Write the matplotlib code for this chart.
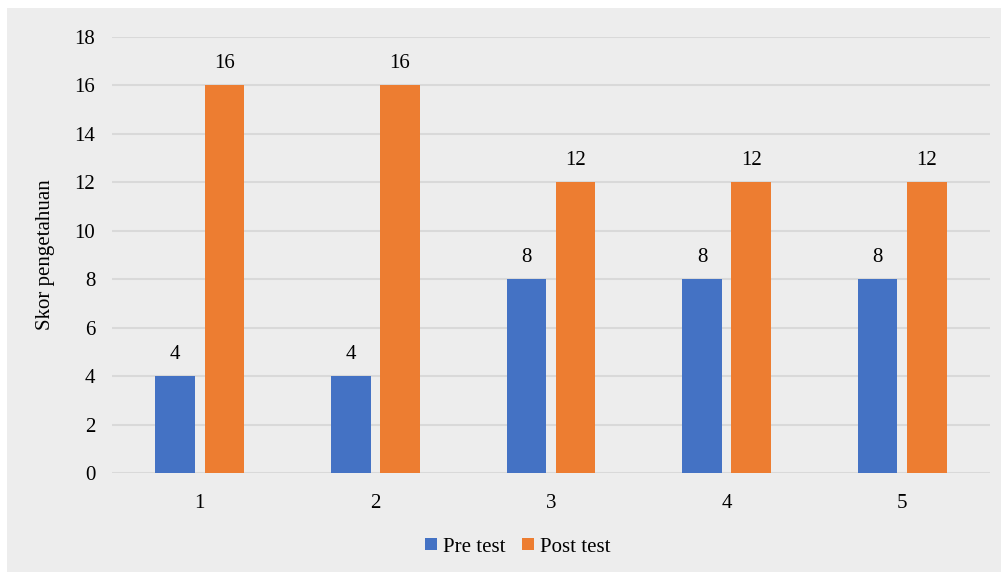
import matplotlib.pyplot as plt
from matplotlib.patches import Rectangle
import numpy as np

categories = ['1', '2', '3', '4', '5']
pre_test = [4, 4, 8, 8, 8]
post_test = [16, 16, 12, 12, 12]

blue = '#4472c4'
orange = '#ed7d31'
bg = '#ededed'
fs = 15

plt.rcParams['font.family'] = ['Liberation Serif', 'DejaVu Serif']

fig = plt.figure(figsize=(10.06, 5.76), dpi=100)
fig.patch.set_facecolor('white')
fig.patches.append(Rectangle((7 / 1006, 4 / 576), 994 / 1006, 564 / 576,
                             transform=fig.transFigure, facecolor=bg,
                             edgecolor='none', zorder=-10))

ax = fig.add_axes([112 / 1006, 1 - 473 / 576, 878 / 1006, 436 / 576])
ax.set_facecolor(bg)

x = np.arange(len(categories))
w = 0.225
off = 0.14
b1 = ax.bar(x - off, pre_test, w, color=blue, label='Pre test', zorder=3)
b2 = ax.bar(x + off, post_test, w, color=orange, label='Post test', zorder=3)

for bars in (b1, b2):
    for r in bars:
        ax.text(r.get_x() + r.get_width() / 2, r.get_height() + 0.5,
                f'{int(r.get_height())}', ha='center', va='bottom', fontsize=fs)

ax.set_xlim(-0.5, 4.5)
ax.set_ylim(0, 18)
ax.set_yticks(range(0, 19, 2))
ax.set_xticks(x)
ax.set_xticklabels(categories)
ax.tick_params(axis='both', length=0, labelsize=fs)
ax.tick_params(axis='y', pad=12)
ax.tick_params(axis='x', pad=15)
ax.grid(axis='y', color='#d9d9d9', linewidth=1.5, zorder=0)
for s in ax.spines.values():
    s.set_visible(False)

ax.set_ylabel('Skor pengetahuan', fontsize=fs, labelpad=14)

fig.legend(handles=[b1, b2], loc='center', bbox_to_anchor=(518 / 1006, 1 - 547 / 576),
           ncol=2, frameon=False, fontsize=fs, handlelength=0.55, handleheight=0.55,
           handletextpad=0.3, columnspacing=0.8)

fig.savefig('out.png', dpi=100, facecolor=fig.get_facecolor())
